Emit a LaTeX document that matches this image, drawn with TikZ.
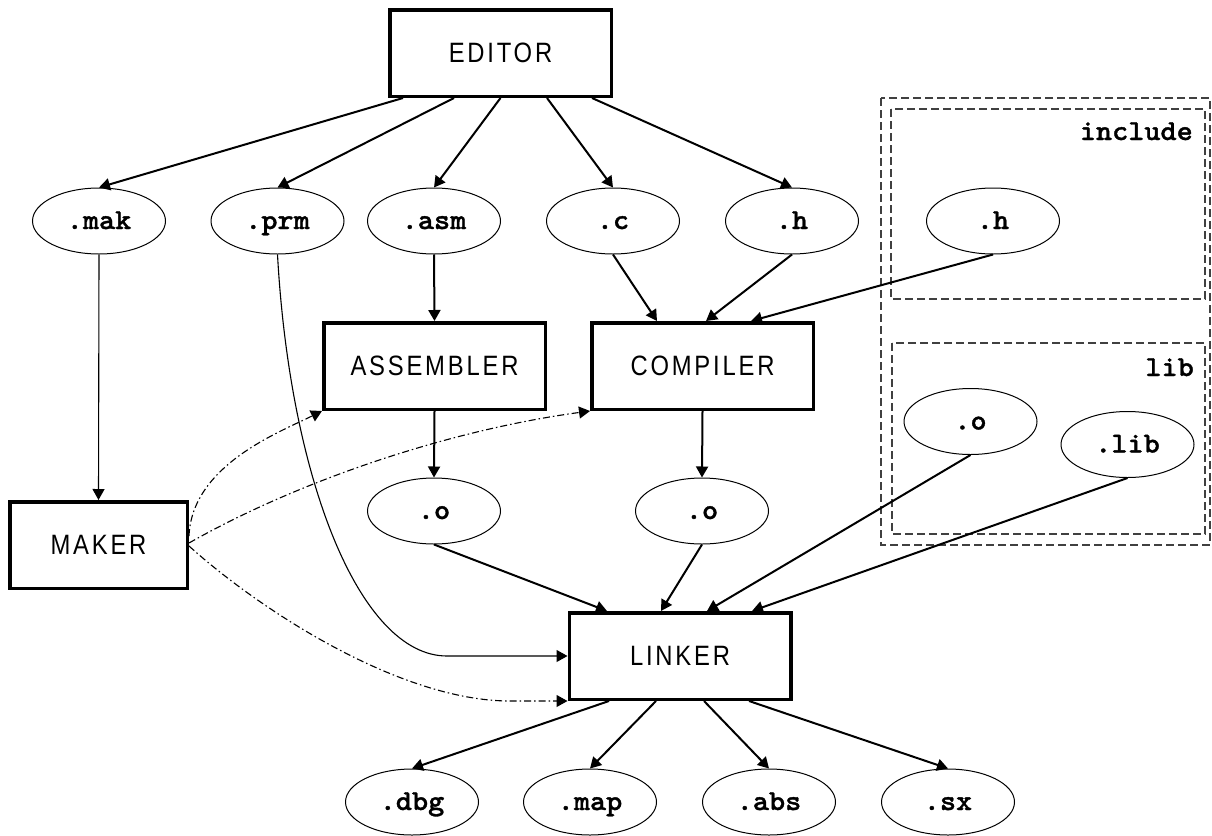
\documentclass[tikz,border=0pt]{standalone}
\usepackage{fontspec}
\setmainfont{Liberation Sans}
\newfontfamily\boxfont[FakeStretch=0.85,LetterSpace=10]{Liberation Sans}
\newfontfamily\extfont{lmmonolt10-bold}[Extension=.otf,FakeStretch=1.06,FakeBold=1.2]
\usetikzlibrary{shapes.geometric,arrows.meta}
\begin{document}
\begin{tikzpicture}[x=1pt,y=-1pt,
  box/.style={draw,line width=3.5pt,rectangle,minimum width=221.5pt,minimum height=86.5pt,inner sep=0pt,
    text height=18pt,text depth=0pt,font=\boxfont\fontsize{28}{33}\selectfont},
  file/.style={draw,line width=1pt,ellipse,minimum width=133pt,minimum height=66pt,inner sep=0pt,
    text height=16pt,text depth=0pt,font=\extfont\fontsize{29}{34}\selectfont},
  clabel/.style={anchor=base east,inner sep=0pt,font=\extfont\fontsize{29}{34}\selectfont},
  edge/.style={line width=2pt,-{Triangle[length=11pt,width=12pt]}},
  thinedge/.style={line width=1.1pt,-{Triangle[length=11pt,width=12pt]}},
  ctrl/.style={line width=1.1pt,dash pattern=on 7pt off 3pt on 1.5pt off 3pt,-{Triangle[length=11pt,width=12pt]}},
  cluster/.style={draw=black!75,line width=1.3pt,dash pattern=on 8pt off 4pt}]
\useasboundingbox (0,0) rectangle (1212,835);
\fill[white] (0,0) rectangle (1212,835);
% clusters
\draw[cluster] (881,98) rectangle (1210,545);
\draw[cluster] (891,109) rectangle (1205,299);
\draw[cluster] (892,343) rectangle (1205,534);
\node[clabel] (inclbl) at (1193,140) {include};
\node[clabel] (liblbl) at (1194,376) {lib};
% boxes
\node[box] (ED) at (500.5,53) {EDITOR};
\node[box] (AS) at (434.5,366) {ASSEMBLER};
\node[box] (CO) at (702.5,366) {COMPILER};
\node[box,minimum width=177.5pt] (MA) at (98.5,545) {MAKER};
\node[box] (LI) at (680,656) {LINKER};
% files
\node[file] (mak) at (99,221) {.mak};
\node[file] (prm) at (277.5,221) {.prm};
\node[file] (asm) at (434,221) {.asm};
\node[file] (c) at (613,221) {.c};
\node[file] (h) at (792,221) {.h};
\node[file] (ih) at (993,221) {.h};
\node[file] (o1) at (434,511) {.o};
\node[file] (o2) at (702,511) {.o};
\node[file] (lo) at (970.5,421.5) {.o};
\node[file] (ll) at (1127.5,444.5) {.lib};
\node[file] (dbg) at (412,802) {.dbg};
\node[file] (map) at (590,802) {.map};
\node[file] (abs) at (769,802) {.abs};
\node[file] (sx) at (948,802) {.sx};
% editor edges
\draw[edge] ([xshift=-97.5pt]ED.south) -- (mak.north);
\draw[edge] ([xshift=-46.5pt]ED.south) -- (prm.north);
\draw[edge] (ED.south) -- (asm.north);
\draw[edge] ([xshift=46.5pt]ED.south) -- (c.north);
\draw[edge] ([xshift=91.5pt]ED.south) -- (h.north);
% to assembler / compiler
\draw[edge] (asm.south) -- (AS.north);
\draw[edge] (c.south) -- ([xshift=-45.5pt]CO.north);
\draw[edge] (h.south) -- ([xshift=3.5pt]CO.north);
\draw[edge] (ih.south) -- ([xshift=48.5pt]CO.north);
\draw[edge] (AS.south) -- (o1.north);
\draw[edge] (CO.south) -- (o2.north);
% to linker
\draw[edge] (o1.south) -- ([xshift=-73pt]LI.north);
\draw[edge] (o2.south) -- ([xshift=-19pt]LI.north);
\draw[edge] (lo.south) -- ([xshift=27pt]LI.north);
\draw[edge] (ll.south) -- ([xshift=72pt]LI.north);
% linker outputs
\draw[edge] ([xshift=-71pt]LI.south) -- (dbg.north);
\draw[edge] ([xshift=-24pt]LI.south) -- (map.north);
\draw[edge] ([xshift=24pt]LI.south) -- (abs.north);
\draw[edge] ([xshift=69pt]LI.south) -- (sx.north);
% thin edges
\draw[thinedge] (mak.south) -- (MA.north);
\draw[thinedge] (prm.south) .. controls (290,480) and (360,656) .. (447,656) -- (LI.west);
% maker control edges
\draw[ctrl] ([yshift=9pt]MA.east) .. controls (192,465) and (280,432) .. (AS.south west);
\draw[ctrl] ([yshift=2pt]MA.east) .. controls (300,480) and (450,430) .. (CO.south west);
\draw[ctrl] ([yshift=-1pt]MA.east) .. controls (260,610) and (400,701) .. (510,701) -- (LI.south west);
\end{tikzpicture}
\end{document}
